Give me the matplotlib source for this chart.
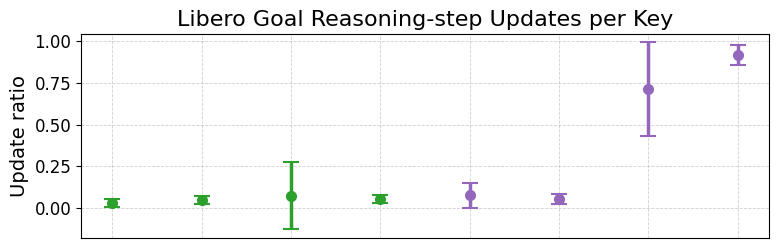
import numpy as np
import matplotlib.pyplot as plt

keys = list(range(8))
means = [0.03, 0.048, 0.072, 0.054, 0.077, 0.054, 0.716, 0.916]
lower = [0.005, 0.024, -0.127, 0.030, 0.0, 0.024, 0.434, 0.861]
upper = [0.054, 0.072, 0.276, 0.078, 0.150, 0.084, 0.994, 0.976]
colors = ['#2ca02c'] * 4 + ['#9467bd'] * 4

fig, ax = plt.subplots(figsize=(7.79, 2.48), dpi=100)
for k, m, lo, hi, c in zip(keys, means, lower, upper, colors):
    ax.errorbar([k], [m], yerr=[[m - lo], [hi - m]], fmt='o', color=c,
                ecolor=c, elinewidth=2.5, capsize=6, capthick=1.5, markersize=7)

ax.set_xticks([])
ax.set_xticks(keys, minor=True)
ax.tick_params(axis='x', which='minor', length=0)
ax.grid(True, which='both', linestyle='--', linewidth=0.6, alpha=0.6)
ax.set_ylim(-0.18, 1.045)
ax.set_ylabel('Update ratio', fontsize=14)
ax.set_title('Libero Goal Reasoning-step Updates per Key', fontsize=16)
ax.tick_params(axis='y', labelsize=12)
fig.subplots_adjust(left=0.104, right=0.987, top=0.863, bottom=0.04)
plt.savefig('out.png')
